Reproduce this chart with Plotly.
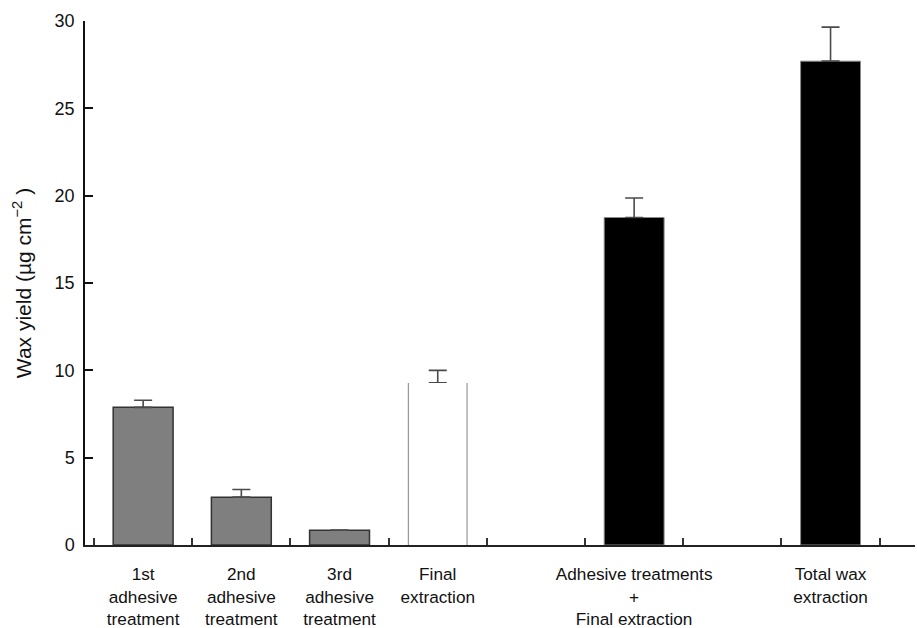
import plotly.graph_objects as go

# ---- data ----
slots = ["1st<br>adhesive<br>treatment", "2nd<br>adhesive<br>treatment",
         "3rd<br>adhesive<br>treatment", "Final<br>extraction", " ",
         "Adhesive treatments<br>+<br>Final extraction", "  ",
         "Total wax<br>extraction"]
gray_cats = ["1st<br>adhesive<br>treatment", "2nd<br>adhesive<br>treatment",
             "3rd<br>adhesive<br>treatment"]
gray_vals = [7.88, 2.74, 0.85]
gray_err = [0.41, 0.44, 0.0]
white_cats = ["Final<br>extraction"]
white_vals = [9.28]
white_err = [0.72]
black_cats = ["Adhesive treatments<br>+<br>Final extraction", "Total wax<br>extraction"]
black_vals = [18.75, 27.70]
black_err = [1.12, 1.95]
y_ticks = [0, 5, 10, 15, 20, 25, 30]

FONT = "Liberation Sans, Arial, Helvetica, sans-serif"
BW = 0.61
ERRC = "#4a4a4a"

def err(vals):
    return dict(type="data", array=vals, arrayminus=[0] * len(vals), symmetric=False,
                color=ERRC, thickness=1.6, width=9)

fig = go.Figure()
fig.add_trace(go.Bar(x=gray_cats, y=gray_vals, width=BW, error_y=err(gray_err),
                     marker=dict(color="#7f7f7f", line=dict(color="#333333", width=1.5)),
                     showlegend=False))
# white bar: gray side edges (base, carrying the error bar) + white fill on top
fig.add_trace(go.Bar(x=white_cats, y=white_vals, width=BW, error_y=err(white_err),
                     marker=dict(color="#9a9a9a", line=dict(width=0)), showlegend=False))
fig.add_trace(go.Bar(x=white_cats, y=white_vals, width=BW - 0.025,
                     marker=dict(color="#ffffff", line=dict(width=0)), showlegend=False))
fig.add_trace(go.Bar(x=black_cats, y=black_vals, width=BW, error_y=err(black_err),
                     marker=dict(color="#000000", line=dict(color="#888888", width=1)),
                     showlegend=False))

fig.update_layout(
    width=917, height=628,
    margin=dict(l=85, r=2, t=21, b=83, autoexpand=False),
    paper_bgcolor="white", plot_bgcolor="white",
    barmode="overlay",
    font=dict(family=FONT, size=18, color="#111111"),
    xaxis=dict(type="category", categoryorder="array", categoryarray=slots,
               range=[-0.592, 7.86], tickson="boundaries", tickangle=0,
               ticks="inside", ticklen=7, tickwidth=1.5, tickcolor="#333333",
               showline=True, linecolor="#222222", linewidth=1.5,
               showgrid=False, zeroline=False, layer="below traces",
               automargin=False, ticklabelstandoff=13, tickfont=dict(size=17.2)),
    yaxis=dict(range=[0, 30], tickvals=y_ticks, ticks="inside", ticklen=8,
               tickwidth=1.5, tickcolor="#111111", showline=True,
               linecolor="#111111", linewidth=1.5, showgrid=False, zeroline=False,
               automargin=False, ticklabelstandoff=5, tickfont=dict(size=18),
               title=dict(text="Wax yield (µg cm<sup>−2</sup> )", font=dict(size=21),
                          standoff=17)),
)

fig.write_html("out.html")
